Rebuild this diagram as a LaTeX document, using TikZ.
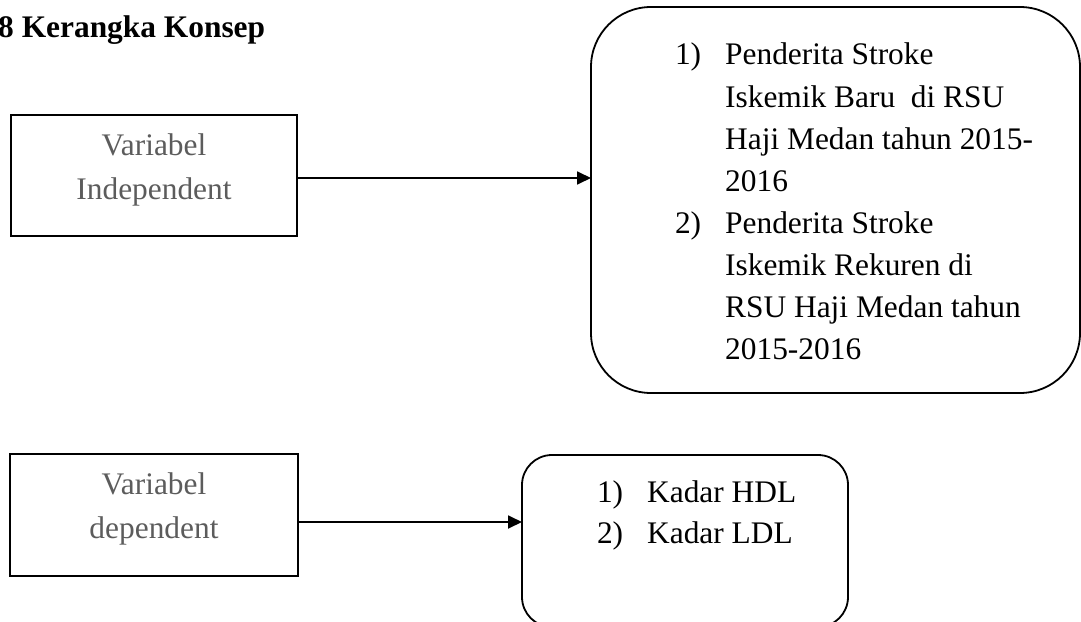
\documentclass[tikz,border=0pt]{standalone}
\usepackage{fontspec}
\setmainfont{Liberation Serif}
\usetikzlibrary{arrows.meta}
\definecolor{graytext}{HTML}{5C5C5C}
\begin{document}
\begin{tikzpicture}[x=1pt,y=-1pt,
  box/.style={draw, line width=1.8pt, rectangle, inner sep=0pt, outer sep=0pt, align=center, text=graytext, font=\fontsize{31.4}{44}\selectfont},
  rbox/.style={draw, line width=1.8pt, inner sep=0pt, outer sep=0pt},
  lst/.style={inner sep=0pt, outer sep=0pt, anchor=north west},
  conn/.style={line width=1.8pt, -{Triangle[length=14pt,width=13pt]}}
]
\useasboundingbox (0,0) rectangle (1081,621);
\node[anchor=base west, inner sep=0pt, font=\bfseries\fontsize{31.4}{38}\selectfont] (title) at (-2,37) {8 Kerangka Konsep};

\node[box, minimum width=286pt, minimum height=121pt, text height=57pt, text depth=10pt] (b1) at (154,175.5) {Variabel\\Independent};
\node[rbox, rounded corners=60pt, minimum width=489pt, minimum height=386pt] (b2) at (835.5,200) {};
\node[lst, font=\fontsize{31.4}{42.1}\selectfont] (l2) at (675,35.5) {\begin{tabular}{@{}l@{\hspace{24pt}}l@{}}
1) & Penderita Stroke\\
   & Iskemik Baru\ \ di RSU\\
   & Haji Medan tahun 2015-\\
   & 2016\\
2) & Penderita Stroke\\
   & Iskemik Rekuren di\\
   & RSU Haji Medan tahun\\
   & 2015-2016
\end{tabular}};

\node[box, minimum width=288pt, minimum height=122pt, text height=56pt, text depth=10pt] (b3) at (154,515) {Variabel\\dependent};
\node[rbox, rounded corners=30pt, minimum width=326pt, minimum height=172pt] (b4) at (685,541) {};
\node[lst, font=\fontsize{31.4}{41.5}\selectfont] (l4) at (597,473) {\begin{tabular}{@{}l@{\hspace{24pt}}l@{}}
1) & Kadar HDL\\
2) & Kadar LDL
\end{tabular}};

\coordinate (a1s) at ([yshift=-2.5pt]b1.east);
\coordinate (a2s) at ([yshift=-7pt]b3.east);
\draw[conn] (a1s) -- (a1s -| b2.west);
\draw[conn] (a2s) -- (a2s -| b4.west);
\end{tikzpicture}
\end{document}
